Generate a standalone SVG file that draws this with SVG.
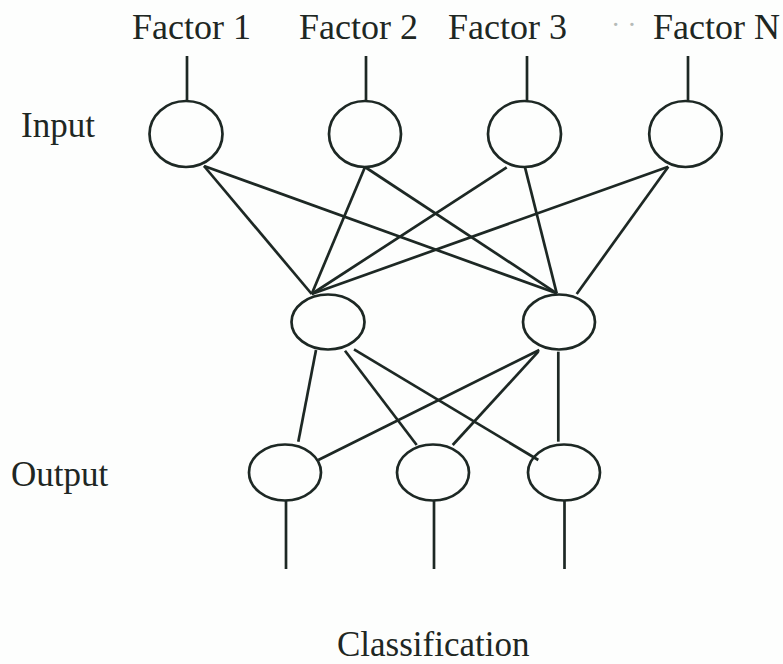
<svg xmlns="http://www.w3.org/2000/svg" width="783" height="664" viewBox="0 0 783 664">
<style>
.bg{fill:#fdfefd}
.n{fill:none;stroke:#1d2824;stroke-width:2.7}
.c line{stroke:#1d2824;stroke-width:2.7;stroke-linecap:butt}
.t{font-family:"Liberation Serif","Times New Roman",serif;font-size:35px;fill:#1e2723}
.f{font-size:36px}
.dots{font-family:"Liberation Serif",serif;font-size:28px;fill:#b5bbb8}
</style>
<rect class="bg" x="0" y="0" width="783" height="664"/>
<g id="labels">
<text class="t" x="21" y="137">Input</text>
<text class="t" x="11" y="486">Output</text>
<text class="t" x="337" y="656">Classification</text>
<text class="dots" x="611" y="34">· ·</text>
</g>
<g id="connectors" class="c">
<line x1="187" y1="56" x2="187" y2="101"/>
<line x1="366" y1="56" x2="366" y2="101"/>
<line x1="527" y1="56" x2="527" y2="101"/>
<line x1="688" y1="56" x2="688" y2="101"/>
<line x1="204" y1="166" x2="311.7" y2="294"/>
<line x1="204" y1="166" x2="556.7" y2="293.3"/>
<line x1="365" y1="167" x2="311.7" y2="294"/>
<line x1="365" y1="167" x2="556.7" y2="293.3"/>
<line x1="506.7" y1="167.3" x2="311.7" y2="294"/>
<line x1="525" y1="167.3" x2="556.7" y2="293.3"/>
<line x1="668.3" y1="166.7" x2="311.7" y2="294"/>
<line x1="668.3" y1="166.7" x2="576.7" y2="294"/>
<line x1="316" y1="350" x2="298.3" y2="441.7"/>
<line x1="345" y1="350.7" x2="416.7" y2="445"/>
<line x1="354" y1="349.3" x2="538.3" y2="460"/>
<line x1="539.3" y1="350" x2="318.3" y2="460"/>
<line x1="538.3" y1="351.7" x2="452.7" y2="445"/>
<line x1="558.3" y1="351.7" x2="558.3" y2="441.7"/>
<line x1="286" y1="500.7" x2="286" y2="569"/>
<line x1="434" y1="500.7" x2="434" y2="569"/>
<line x1="564.5" y1="500.7" x2="564.5" y2="569"/>
</g>
<g id="input1"><text class="t f" x="132" y="38.5">Factor 1</text><ellipse class="n" cx="186" cy="134" rx="36.5" ry="33"/></g>
<g id="input2"><text class="t f" x="299" y="38.5">Factor 2</text><ellipse class="n" cx="365" cy="134" rx="36" ry="33"/></g>
<g id="input3"><text class="t f" x="448" y="38.5">Factor 3</text><ellipse class="n" cx="524.5" cy="134" rx="36.5" ry="33"/></g>
<g id="input4"><text class="t f" x="653" y="38.5">Factor N</text><ellipse class="n" cx="685.5" cy="134" rx="36.3" ry="33"/></g>
<g id="hidden1"><ellipse class="n" cx="328" cy="322" rx="36.5" ry="27.5"/></g>
<g id="hidden2"><ellipse class="n" cx="559" cy="322" rx="36" ry="27.5"/></g>
<g id="output1"><ellipse class="n" cx="285" cy="472.5" rx="36" ry="28"/></g>
<g id="output2"><ellipse class="n" cx="433" cy="472.5" rx="36" ry="28"/></g>
<g id="output3"><ellipse class="n" cx="564" cy="472.5" rx="36" ry="28"/></g>
</svg>
